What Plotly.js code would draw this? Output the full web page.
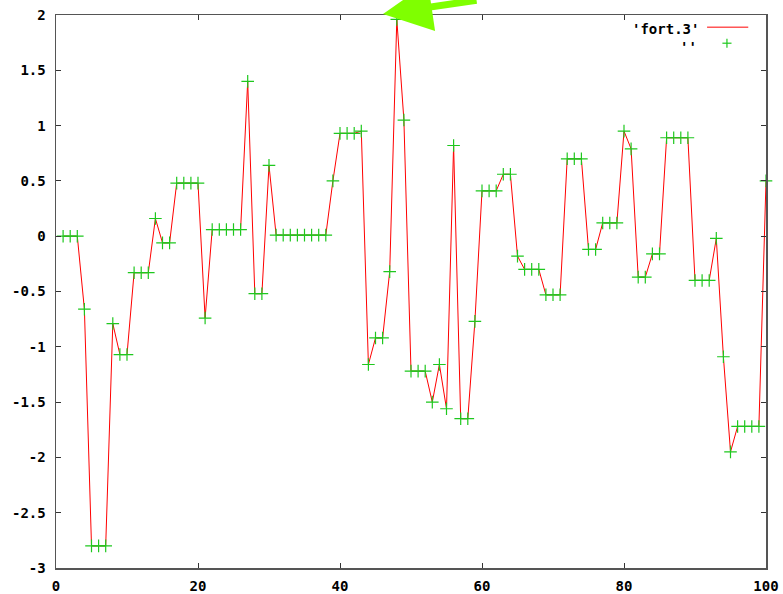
<!DOCTYPE html>
<html>
<head>
<meta charset="utf-8">
<script src="https://cdn.plot.ly/plotly-3.0.1.min.js"></script>
<style>html,body{margin:0;padding:0;background:#fff;}#chart{width:783px;height:594px;}</style>
</head>
<body>
<div id="chart"></div>
<script>
var xs = [1,2,3,4,5,6,7,8,9,10,11,12,13,14,15,16,17,18,19,20,
          21,22,23,24,25,26,27,28,29,30,31,32,33,34,35,36,37,38,39,40,
          41,42,43,44,45,46,47,48,49,50,51,52,53,54,55,56,57,58,59,60,
          61,62,63,64,65,66,67,68,69,70,71,72,73,74,75,76,77,78,79,80,
          81,82,83,84,85,86,87,88,89,90,91,92,93,94,95,96,97,98,99,100];
var fort3 = [0,0,0,-0.66,-2.8,-2.8,-2.8,-0.79,-1.07,-1.07,
             -0.33,-0.33,-0.33,0.16,-0.06,-0.06,0.48,0.48,0.48,0.48,
             -0.74,0.06,0.06,0.06,0.06,0.06,1.40,-0.52,-0.52,0.64,
             0.01,0.01,0.01,0.01,0.01,0.01,0.01,0.01,0.50,0.93,
             0.93,0.93,0.95,-1.16,-0.92,-0.92,-0.32,1.96,1.05,-1.22,
             -1.22,-1.22,-1.50,-1.16,-1.56,0.82,-1.65,-1.65,-0.77,0.41,
             0.41,0.41,0.56,0.56,-0.18,-0.30,-0.30,-0.30,-0.53,-0.53,
             -0.53,0.70,0.70,0.70,-0.12,-0.12,0.12,0.12,0.12,0.95,
             0.79,-0.37,-0.37,-0.16,-0.16,0.89,0.89,0.89,0.89,-0.40,
             -0.40,-0.40,-0.02,-1.09,-1.95,-1.72,-1.72,-1.72,-1.72,0.50];
var xTickVals = [0,20,40,60,80,100];
var xTickText = ["0","20","40","60","80","100"];
var yTickVals = [2,1.5,1,0.5,0,-0.5,-1,-1.5,-2,-2.5,-3];
var yTickText = ["2","1.5","1","0.5","0","-0.5","-1","-1.5","-2","-2.5","-3"];
var legendLabels = ["'fort.3'", "''"];

var font = {family: "DejaVu Sans Mono, monospace", size: 14, color: "#000", weight: "bold"};
var green = "#1ec81e";

var traces = [
  {x: xs, y: fort3, type: "scatter", mode: "lines", line: {color: "#ff0000", width: 1}, hoverinfo: "none", cliponaxis: true},
  {x: xs, y: fort3, type: "scatter", mode: "markers", marker: {symbol: "cross-thin-open", size: 9, line: {color: green, width: 1.2}, color: green}, hoverinfo: "none", cliponaxis: false}
];

var axisCommon = {
  showgrid: false, zeroline: false, showline: true, linecolor: "#555", linewidth: 1.5,
  ticks: "inside", ticklen: 5, tickcolor: "#333", tickwidth: 1, mirror: "ticks",
  tickfont: font, fixedrange: true
};

var layout = {
  width: 783, height: 594,
  margin: {l: 56, r: 17, t: 15, b: 26, pad: 0},
  paper_bgcolor: "#fff", plot_bgcolor: "#fff",
  showlegend: false,
  xaxis: Object.assign({}, axisCommon, {range: [0, 100], tickmode: "array", tickvals: xTickVals, ticktext: xTickText, ticklabelstandoff: 5}),
  yaxis: Object.assign({}, axisCommon, {range: [-3, 2], tickmode: "array", tickvals: yTickVals, ticktext: yTickText, ticklabelstandoff: 6}),
  annotations: [
    {xref: "paper", yref: "paper", x: 0.908, y: 0.975, text: legendLabels[0], showarrow: false, xanchor: "right", yanchor: "middle", font: font},
    {xref: "paper", yref: "paper", x: 0.906, y: 0.943, text: legendLabels[1], showarrow: false, xanchor: "right", yanchor: "middle", font: font},
    {xref: "paper", yref: "paper", x: 0.4606, y: 1.0018, text: "", showarrow: true, axref: "pixel", ayref: "pixel",
     ax: 95, ay: -24, arrowcolor: "#7fff00", arrowwidth: 7, arrowhead: 2, arrowsize: 1.4, standoff: 0}
  ],
  shapes: [
    {type: "line", xref: "paper", yref: "paper", x0: 0.917, x1: 0.975, y0: 0.978, y1: 0.978, line: {color: "#ff0000", width: 1}},
    {type: "line", xref: "paper", yref: "paper", x0: 0.9386, x1: 0.9514, y0: 0.949, y1: 0.949, line: {color: green, width: 1.2}},
    {type: "line", xref: "paper", yref: "paper", x0: 0.945, x1: 0.945, y0: 0.9409, y1: 0.9571, line: {color: green, width: 1.2}}
  ]
};

Plotly.newPlot("chart", traces, layout, {staticPlot: true, displayModeBar: false});
</script>
</body>
</html>
